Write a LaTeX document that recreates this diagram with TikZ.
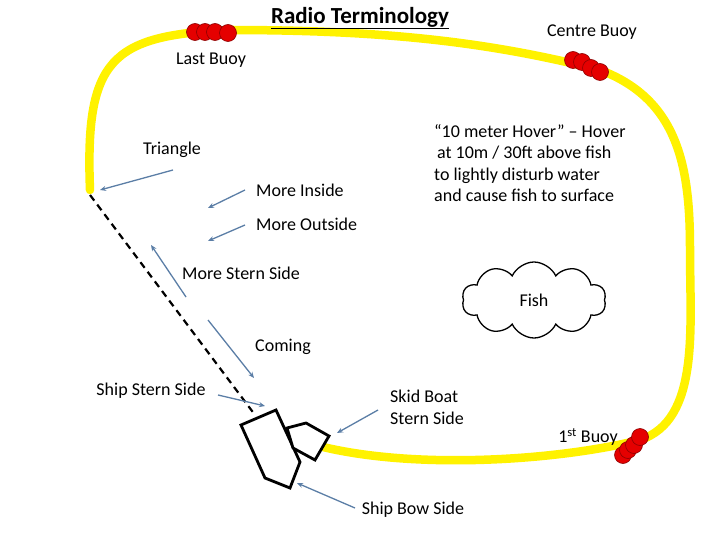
\documentclass[tikz,border=0pt]{standalone}
\usepackage{fontspec}
\setmainfont{Carlito}
\usetikzlibrary{shapes.symbols,arrows.meta}
\definecolor{steel}{HTML}{5B7EA6}
\begin{document}
\begin{tikzpicture}[x=1pt,y=-1pt,
  lbl/.style={font=\fontsize{18}{21.5}\selectfont,inner sep=0pt},
  ptr/.style={draw=steel,line width=1.3pt,-{Stealth[length=6pt,width=5pt]}},
  buoy/.style={circle,fill=red!90!black,draw=red!55!black,line width=0.6pt,minimum size=17pt,inner sep=0pt},
  hull/.style={draw=black,line width=2.8pt,line join=miter,fill=white}]
\useasboundingbox (0,0) rectangle (720,540);
% course line
\draw[yellow,line width=8.5pt,line cap=round] (323,447) .. controls (420,470) and (560,460) .. (640,440)
  .. controls (700,420) and (690,330) .. (690,250) .. controls (690,170) and (680,100) .. (600,70)
  .. controls (500,45) and (400,30) .. (230,30) .. controls (110,35) and (85,60) .. (90,190);
% dashed
\coordinate (d1) at (90,195); \coordinate (d2) at (255,415);
\draw[black,line width=2.2pt,dash pattern=on 7pt off 5pt] (d1) -- (d2);
% buoys
\foreach \p [count=\i] in {(195,32),(205,32),(215,32),(228,33)} \node[buoy] (lb\i) at \p {};
\foreach \p [count=\i] in {(573,60),(582,62),(591,68),(600,72)} \node[buoy] (cb\i) at \p {};
\foreach \p [count=\i] in {(623,455),(628,450),(634,445),(640,437)} \node[buoy] (fb\i) at \p {};
% ship and skid
\draw[hull] (241,425) -- (276,410) -- (300,462) -- (290,488) -- (265,478) -- cycle;
\draw[hull] (287,428) -- (306,423) -- (329,436) -- (315,460) -- (293,448) -- cycle;
% fish
\node[cloud,draw,line width=1.3pt,cloud puffs=10,cloud puff arc=130,aspect=1.8,minimum width=144pt,minimum height=76pt,font=\fontsize{18}{21}\selectfont] (fish) at (534,300) {Fish};
% labels
\node[lbl,font=\bfseries\fontsize{23}{26}\selectfont] (title) at (360,18) {\underline{Radio Terminology}};
\node[lbl] (cbl) at (592,32) {Centre Buoy};
\node[lbl] (lbl) at (211,60) {Last Buoy};
\node[lbl,align=left,anchor=north west] (hov) at (434,124) {“10 meter Hover” -- Hover\\\hspace*{3pt}at 10m / 30ft above fish\\to lightly disturb water\\and cause fish to surface};
\node[lbl] (tri) at (172,150) {Triangle};
\node[lbl,anchor=west] (mi) at (256,190) {More Inside};
\node[lbl,anchor=west] (mo) at (256,224) {More Outside};
\node[lbl] (mss) at (241,273) {More Stern Side};
\node[lbl] (com) at (283,347) {Coming};
\node[lbl] (sss) at (151,391) {Ship Stern Side};
\node[lbl,align=left,anchor=north west] (sb) at (390,390) {Skid Boat\\Stern Side};
\node[lbl] (fbl) at (588,437) {1\textsuperscript{st} Buoy};
\node[lbl] (sbs) at (413,510) {Ship Bow Side};
% pointers
\coordinate (a1) at (173,170); \coordinate (b1) at (100,190);
\coordinate (a2) at (245,190); \coordinate (b2) at (208,208);
\coordinate (a3) at (245,225); \coordinate (b3) at (208,241);
\coordinate (a4) at (186,297); \coordinate (b4) at (151,245);
\coordinate (a5) at (208,320); \coordinate (b5) at (254,378);
\coordinate (a6) at (218,395); \coordinate (b6) at (265,406);
\coordinate (a7) at (378,410); \coordinate (b7) at (337,433);
\coordinate (a8) at (355,508); \coordinate (b8) at (297,483);
\foreach \i in {1,...,8} \draw[ptr] (a\i) -- (b\i);
\end{tikzpicture}
\end{document}
